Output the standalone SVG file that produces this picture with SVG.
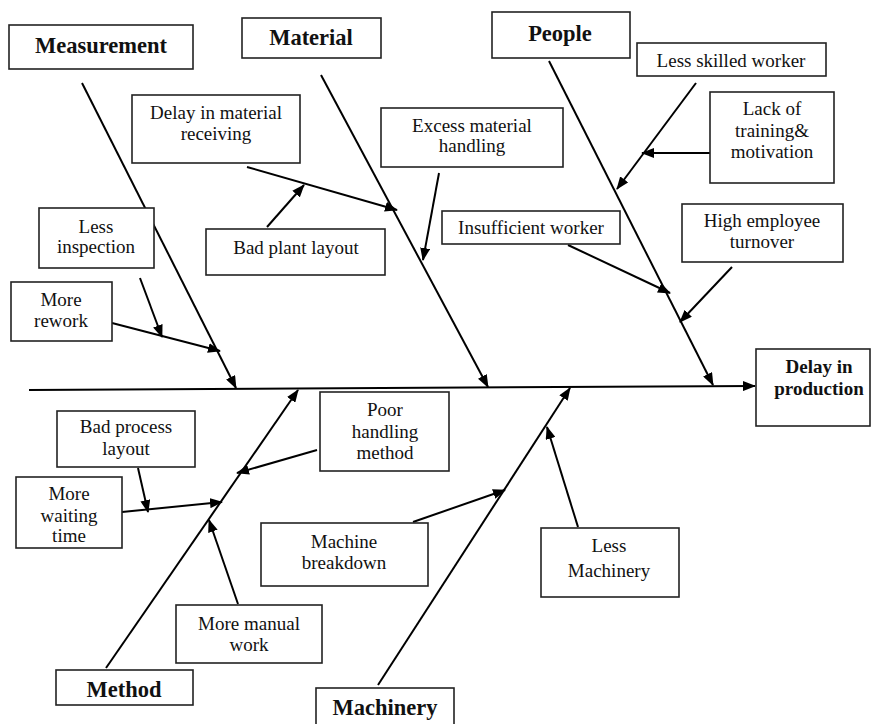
<svg xmlns="http://www.w3.org/2000/svg" width="872" height="724" viewBox="0 0 872 724">
<style>
.box{fill:#fff;stroke:#222;stroke-width:1.6}
.t{font-family:"Liberation Serif","Times New Roman",serif;font-size:19px;fill:#111;text-anchor:middle}
.b{font-weight:bold;font-size:22.5px}
.b2{font-weight:bold}
.ln{stroke:#000;stroke-width:2;fill:none}
.ar{stroke:#000;stroke-width:2;fill:none;marker-end:url(#ah)}
</style>
<defs>
<marker id="ah" markerUnits="userSpaceOnUse" markerWidth="13" markerHeight="10" refX="12" refY="5" orient="auto">
<path d="M0,0 L13,5 L0,10 z" fill="#000"/>
</marker>
</defs>
<rect width="872" height="724" fill="#fff"/>
<g id="connectors">
<line class="ar" x1="29" y1="390" x2="755" y2="386"/>
<line class="ar" x1="82" y1="83" x2="236" y2="388"/>
<line class="ar" x1="321" y1="75" x2="488" y2="387"/>
<line class="ar" x1="549" y1="61" x2="713" y2="385"/>
<line class="ar" x1="378" y1="685" x2="570" y2="388"/>
<line class="ar" x1="106" y1="668" x2="298" y2="390"/>
<line class="ar" x1="247" y1="167" x2="397" y2="210"/>
<line class="ar" x1="267" y1="227" x2="304" y2="185"/>
<line class="ar" x1="439" y1="173" x2="423" y2="260"/>
<line class="ar" x1="696" y1="83" x2="617" y2="189"/>
<line class="ar" x1="710" y1="153" x2="642" y2="153"/>
<line class="ar" x1="568" y1="245" x2="670" y2="293"/>
<line class="ar" x1="732" y1="267" x2="680" y2="322"/>
<line class="ar" x1="140" y1="278" x2="162" y2="337"/>
<line class="ar" x1="112" y1="323" x2="220" y2="351"/>
<line class="ar" x1="317" y1="450" x2="237" y2="473"/>
<line class="ar" x1="122" y1="512" x2="222" y2="502"/>
<line class="ar" x1="138" y1="468" x2="148" y2="512"/>
<line class="ar" x1="238" y1="604" x2="209" y2="520"/>
<line class="ar" x1="578" y1="527" x2="547" y2="427"/>
<line class="ar" x1="413" y1="522" x2="505" y2="490"/>
</g>
<g id="measurement"><rect class="box" x="9" y="25" width="184" height="44"/><text class="t b" x="101" y="53">Measurement</text></g>
<g id="material"><rect class="box" x="242" y="18" width="139" height="40"/><text class="t b" x="311" y="45">Material</text></g>
<g id="people"><rect class="box" x="492" y="12" width="138" height="46"/><text class="t b" x="560" y="41">People</text></g>
<g id="method"><rect class="box" x="56" y="670" width="137" height="35"/><text class="t b" x="124" y="697">Method</text></g>
<g id="machinery"><rect class="box" x="316" y="688" width="138" height="48"/><text class="t b" x="385" y="715">Machinery</text></g>
<g id="effect"><rect class="box" x="756" y="349" width="114" height="77"/><text class="t b2" x="819" y="373">Delay in</text><text class="t b2" x="819" y="395">production</text></g>
<g id="delay-material"><rect class="box" x="132" y="95" width="168" height="68"/><text class="t" x="216" y="119">Delay in material</text><text class="t" x="216" y="140">receiving</text></g>
<g id="bad-plant"><rect class="box" x="206" y="229" width="179" height="46"/><text class="t" x="296" y="254">Bad plant layout</text></g>
<g id="excess"><rect class="box" x="381" y="108" width="182" height="59"/><text class="t" x="472" y="132">Excess material</text><text class="t" x="472" y="152">handling</text></g>
<g id="less-skilled"><rect class="box" x="637" y="43" width="189" height="33"/><text class="t" x="731" y="67">Less skilled worker</text></g>
<g id="lack-training"><rect class="box" x="710" y="92" width="124" height="91"/><text class="t" x="772" y="115">Lack of</text><text class="t" x="772" y="137">training&amp;</text><text class="t" x="772" y="158">motivation</text></g>
<g id="insufficient"><rect class="box" x="442" y="211" width="178" height="33"/><text class="t" x="531" y="234">Insufficient worker</text></g>
<g id="high-turnover"><rect class="box" x="682" y="204" width="161" height="58"/><text class="t" x="762" y="227">High employee</text><text class="t" x="762" y="248">turnover</text></g>
<g id="less-inspection"><rect class="box" x="39" y="208" width="115" height="60"/><text class="t" x="96" y="233">Less</text><text class="t" x="96" y="253">inspection</text></g>
<g id="more-rework"><rect class="box" x="11" y="282" width="101" height="59"/><text class="t" x="61" y="306">More</text><text class="t" x="61" y="327">rework</text></g>
<g id="poor-handling"><rect class="box" x="320" y="392" width="129" height="79"/><text class="t" x="385" y="416">Poor</text><text class="t" x="385" y="438">handling</text><text class="t" x="385" y="459">method</text></g>
<g id="bad-process"><rect class="box" x="57" y="411" width="138" height="56"/><text class="t" x="126" y="433">Bad process</text><text class="t" x="126" y="455">layout</text></g>
<g id="more-waiting"><text class="t" x="69" y="500">More</text><text class="t" x="69" y="522">waiting</text><text class="t" x="69" y="542">time</text><rect x="16" y="477" width="106" height="71" fill="none" stroke="#222" stroke-width="1.6"/></g>
<g id="more-manual"><rect class="box" x="176" y="605" width="146" height="58"/><text class="t" x="249" y="630">More manual</text><text class="t" x="249" y="651">work</text></g>
<g id="machine-breakdown"><rect class="box" x="261" y="523" width="167" height="63"/><text class="t" x="344" y="548">Machine</text><text class="t" x="344" y="569">breakdown</text></g>
<g id="less-machinery"><rect class="box" x="541" y="528" width="138" height="69"/><text class="t" x="609" y="552">Less</text><text class="t" x="609" y="577">Machinery</text></g>
</svg>
